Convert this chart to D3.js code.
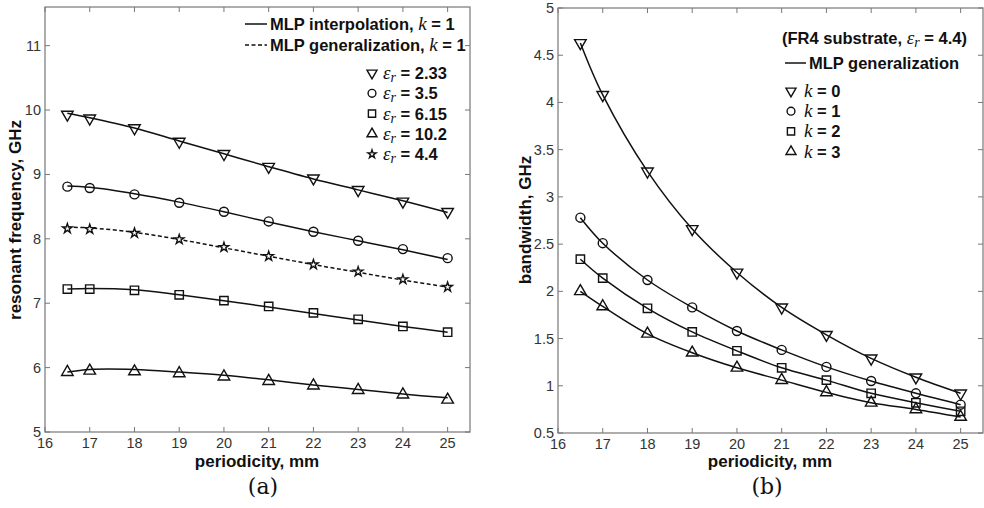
<!DOCTYPE html>
<html lang="en">
<head>
<meta charset="UTF-8">
<title>Resonant frequency and bandwidth vs periodicity</title>
<script src="https://d3js.org/d3.v7.min.js"></script>
<style>
  body { margin: 0; background: #fff; }
  svg text { font-family: "Liberation Sans", Arial, sans-serif; }
  .tick-label { font-size: 14.5px; fill: #333; }
  .axis-title { font-size: 17px; font-weight: bold; fill: #111; }
  .legend { font-size: 16.5px; font-weight: bold; fill: #111; }
  .it { font-family: "Liberation Serif", "Times New Roman", serif; font-style: italic; font-weight: normal; }
  .caption { font-family: "DejaVu Serif", "Liberation Serif", serif; font-size: 22px; fill: #111; }
</style>
</head>
<body>
<svg width="984" height="508"></svg>
<script>
// shared x values (periodicity, mm)
const periodicity = [16.5, 17, 18, 19, 20, 21, 22, 23, 24, 25];
const xTicks = [16, 17, 18, 19, 20, 21, 22, 23, 24, 25];

// (a) resonant frequency, GHz - target points
const epsLabels = ['2.33', '3.5', '6.15', '10.2', '4.4'];
const fEps233 = [9.93, 9.87, 9.72, 9.51, 9.32, 9.12, 8.94, 8.76, 8.58, 8.42];
const fEps35 = [8.81, 8.79, 8.69, 8.56, 8.42, 8.27, 8.11, 7.97, 7.84, 7.70];
const fEps615 = [7.22, 7.22, 7.20, 7.13, 7.04, 6.95, 6.85, 6.75, 6.64, 6.55];
const fEps102 = [5.93, 5.95, 5.94, 5.91, 5.86, 5.79, 5.72, 5.65, 5.58, 5.50];
const fEps44 = [8.16, 8.15, 8.09, 7.99, 7.87, 7.73, 7.60, 7.49, 7.37, 7.25];
// (a) MLP curves at the same periodicities
const mlpEps233 = [9.95, 9.88, 9.72, 9.52, 9.32, 9.12, 8.93, 8.76, 8.59, 8.41];
const mlpEps35 = [8.82, 8.80, 8.70, 8.57, 8.42, 8.26, 8.11, 7.97, 7.83, 7.68];
const mlpEps615 = [7.22, 7.23, 7.21, 7.13, 7.04, 6.94, 6.84, 6.74, 6.64, 6.55];
const mlpEps102 = [5.93, 5.97, 5.97, 5.93, 5.88, 5.81, 5.73, 5.66, 5.59, 5.53];
const mlpEps44 = [8.18, 8.17, 8.10, 7.99, 7.86, 7.73, 7.60, 7.48, 7.36, 7.25];
const yTicksA = [5, 6, 7, 8, 9, 10, 11];

// (b) bandwidth, GHz (FR4, eps_r = 4.4)
const kLabels = ['0', '1', '2', '3'];
const bwK0 = [4.63, 4.08, 3.27, 2.66, 2.20, 1.83, 1.54, 1.29, 1.09, 0.92];
const bwK1 = [2.78, 2.51, 2.12, 1.83, 1.58, 1.38, 1.20, 1.05, 0.92, 0.80];
const bwK2 = [2.34, 2.14, 1.82, 1.57, 1.37, 1.19, 1.06, 0.92, 0.82, 0.73];
const bwK3 = [2.00, 1.84, 1.55, 1.35, 1.19, 1.06, 0.93, 0.82, 0.75, 0.67];
const yTicksB = [0.5, 1, 1.5, 2, 2.5, 3, 3.5, 4, 4.5, 5];

const svg = d3.select('svg');

const markers = {
  down: { type: d3.symbolTriangle, size: 58, rot: 180 },
  up: { type: d3.symbolTriangle, size: 58, rot: 0 },
  circle: { type: d3.symbolCircle, size: 64, rot: 0 },
  square: { type: d3.symbolSquare, size: 70, rot: 0 },
  star: { type: d3.symbolStar, size: 28, rot: 0 }
};

function drawMarker(g, kind, cx, cy, scale) {
  const m = markers[kind];
  const s = scale || 1;
  g.append('path')
    .attr('d', d3.symbol().type(m.type).size(m.size * s)())
    .attr('transform', `translate(${cx},${cy}) rotate(${m.rot})`)
    .attr('fill', kind === 'star' ? '#fff' : 'none')
    .attr('stroke', '#111')
    .attr('stroke-width', 1.4);
}

function frame(left, top, width, height, yDomain, yTicks) {
  const g = svg.append('g').attr('transform', `translate(${left},${top})`);
  const x = d3.scaleLinear().domain([16, 25.5]).range([0, width]);
  const y = d3.scaleLinear().domain(yDomain).range([height, 0]);

  g.append('rect').attr('width', width).attr('height', height)
    .attr('fill', 'none').attr('stroke', '#777').attr('stroke-width', 1.2);

  const tl = 5;
  xTicks.forEach(t => {
    g.append('line').attr('x1', x(t)).attr('x2', x(t)).attr('y1', height).attr('y2', height - tl).attr('stroke', '#777');
    g.append('line').attr('x1', x(t)).attr('x2', x(t)).attr('y1', 0).attr('y2', tl).attr('stroke', '#777');
    g.append('text').attr('class', 'tick-label').attr('x', x(t)).attr('y', height + 16)
      .attr('text-anchor', 'middle').text(t);
  });
  yTicks.forEach(t => {
    g.append('line').attr('x1', 0).attr('x2', tl).attr('y1', y(t)).attr('y2', y(t)).attr('stroke', '#777');
    g.append('line').attr('x1', width).attr('x2', width - tl).attr('y1', y(t)).attr('y2', y(t)).attr('stroke', '#777');
    g.append('text').attr('class', 'tick-label').attr('x', -4).attr('y', y(t) + 5)
      .attr('text-anchor', 'end').text(t);
  });
  return { g, x, y };
}

function series(p, curveVals, pointVals, kind, dashed) {
  const line = d3.line()
    .x((d, i) => p.x(periodicity[i]))
    .y(d => p.y(d))
    .curve(d3.curveCatmullRom.alpha(0.5));
  p.g.append('path').attr('d', line(curveVals))
    .attr('fill', 'none').attr('stroke', '#111').attr('stroke-width', 1.5)
    .attr('stroke-dasharray', dashed ? '4,2.5' : null);
  pointVals.forEach((v, i) => drawMarker(p.g, kind, p.x(periodicity[i]), p.y(v)));
}

// ---------- (a) ----------
const A = frame(45, 7, 425, 425, [5, 11.6], yTicksA);
series(A, mlpEps233, fEps233, 'down');
series(A, mlpEps35, fEps35, 'circle');
series(A, mlpEps44, fEps44, 'star', true);
series(A, mlpEps615, fEps615, 'square');
series(A, mlpEps102, fEps102, 'up');

svg.append('text').attr('class', 'axis-title')
  .attr('transform', 'translate(21,220) rotate(-90)').attr('text-anchor', 'middle')
  .text('resonant frequency, GHz');
svg.append('text').attr('class', 'axis-title').attr('x', 257).attr('y', 467)
  .attr('text-anchor', 'middle').text('periodicity, mm');
svg.append('text').attr('class', 'caption').attr('x', 263).attr('y', 494)
  .attr('text-anchor', 'middle').text('(a)');

// legend (a)
const legA = svg.append('g');
[['MLP interpolation, ', null, 24], ['MLP generalization, ', '4,2.5', 45]].forEach(([lab, dash, yy]) => {
  legA.append('line').attr('x1', 245).attr('x2', 267).attr('y1', yy).attr('y2', yy)
    .attr('stroke', '#111').attr('stroke-width', 1.5).attr('stroke-dasharray', dash);
  const t = legA.append('text').attr('class', 'legend').attr('x', 270).attr('y', yy + 6);
  t.append('tspan').text(lab);
  t.append('tspan').attr('class', 'it').attr('font-size', 19).text('k');
  t.append('tspan').text(' = 1');
});
const kindsA = ['down', 'circle', 'square', 'up', 'star'];
epsLabels.forEach((lab, i) => {
  const yy = 73 + i * 20.3;
  drawMarker(legA, kindsA[i], 372, yy, 0.75);
  const t = legA.append('text').attr('class', 'legend').attr('x', 383).attr('y', yy + 6);
  t.append('tspan').attr('class', 'it').attr('font-size', 19).text('ε');
  t.append('tspan').attr('class', 'it').attr('font-size', 14).attr('dy', 3).text('r');
  t.append('tspan').attr('dy', -3).text(' = ' + lab);
});

// ---------- (b) ----------
const B = frame(558, 8, 425, 425, [0.5, 5], yTicksB);
series(B, bwK0, bwK0, 'down');
series(B, bwK1, bwK1, 'circle');
series(B, bwK2, bwK2, 'square');
series(B, bwK3, bwK3, 'up');

svg.append('text').attr('class', 'axis-title')
  .attr('transform', 'translate(531,220) rotate(-90)').attr('text-anchor', 'middle')
  .text('bandwidth, GHz');
svg.append('text').attr('class', 'axis-title').attr('x', 770).attr('y', 467)
  .attr('text-anchor', 'middle').text('periodicity, mm');
svg.append('text').attr('class', 'caption').attr('x', 767).attr('y', 494)
  .attr('text-anchor', 'middle').text('(b)');

// legend (b)
const legB = svg.append('g');
const hdr = legB.append('text').attr('class', 'legend').attr('x', 782).attr('y', 44);
hdr.append('tspan').text('(FR4 substrate, ');
hdr.append('tspan').attr('class', 'it').attr('font-size', 19).text('ε');
hdr.append('tspan').attr('class', 'it').attr('font-size', 14).attr('dy', 3).text('r');
hdr.append('tspan').attr('dy', -3).text(' = 4.4)');
legB.append('line').attr('x1', 785).attr('x2', 806).attr('y1', 63).attr('y2', 63)
  .attr('stroke', '#111').attr('stroke-width', 1.5);
legB.append('text').attr('class', 'legend').attr('x', 809).attr('y', 69).text('MLP generalization');
const kindsB = ['down', 'circle', 'square', 'up'];
kLabels.forEach((lab, i) => {
  const yy = 91 + i * 20.2;
  drawMarker(legB, kindsB[i], 791, yy, 0.75);
  const t = legB.append('text').attr('class', 'legend').attr('x', 804).attr('y', yy + 6);
  t.append('tspan').attr('class', 'it').attr('font-size', 19).text('k');
  t.append('tspan').text(' = ' + lab);
});
</script>
</body>
</html>
